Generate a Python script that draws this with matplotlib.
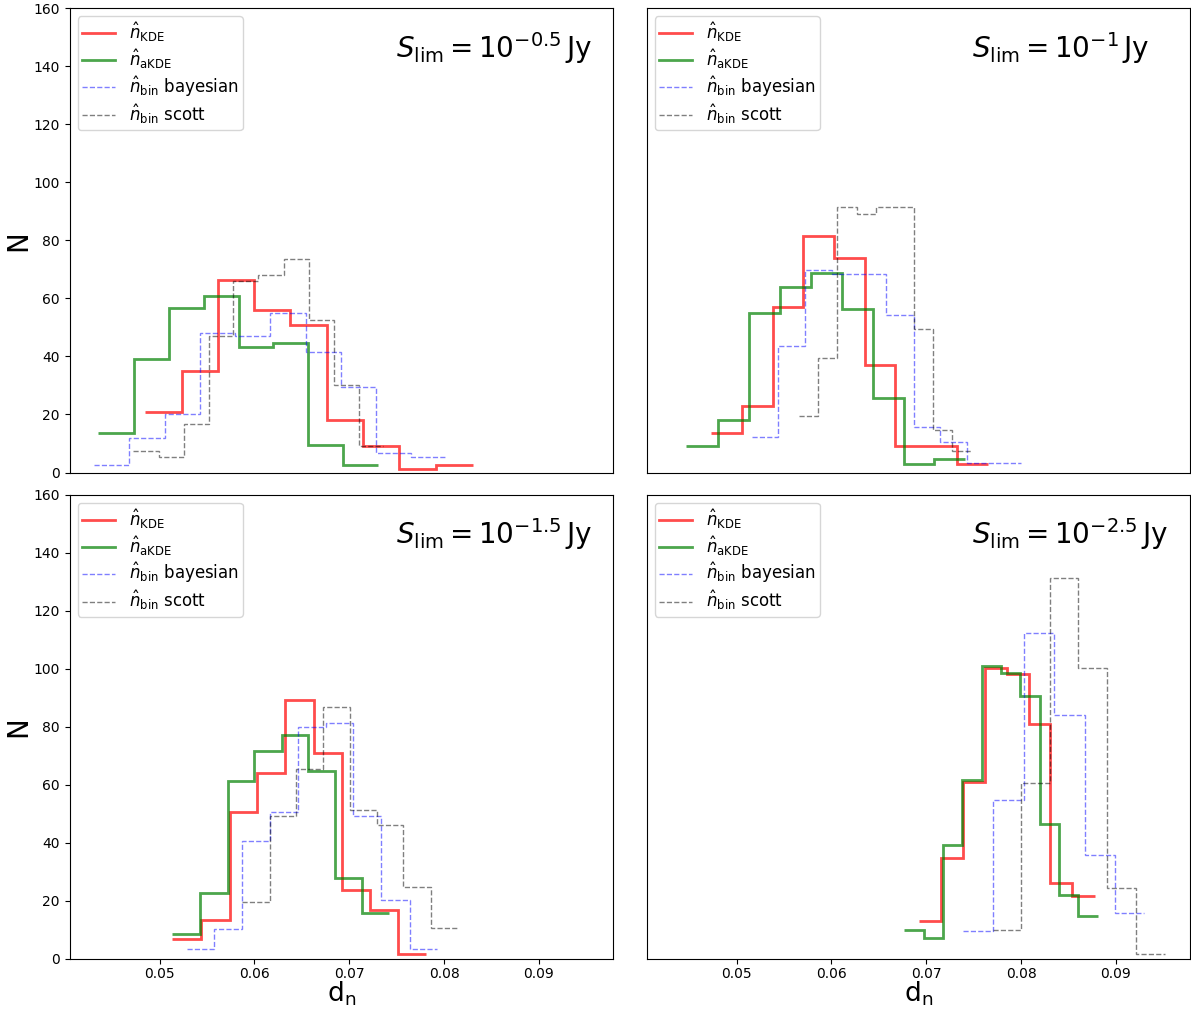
import matplotlib
matplotlib.use('Agg')
import matplotlib.pyplot as plt
import numpy as np

# Grenzflussdichten der vier Panels
titles = [r'$S_{\rm lim} = 10^{-0.5}\,$Jy', r'$S_{\rm lim} = 10^{-1}\,$Jy',
          r'$S_{\rm lim} = 10^{-1.5}\,$Jy', r'$S_{\rm lim} = 10^{-2.5}\,$Jy']

# S_lim = 10^-0.5 Jy
kde_e1 = [0.04849, 0.05235, 0.05618, 0.06000, 0.06379, 0.06761, 0.07147, 0.07526, 0.07913, 0.08305]
kde_n1 = [20.7, 34.9, 66.2, 55.9, 50.7, 18.0, 9.0, 1.1, 2.5]
akde_e1 = [0.04351, 0.04726, 0.05095, 0.05463, 0.05832, 0.06193, 0.06568, 0.06937, 0.07308]
akde_n1 = [13.6, 39.2, 56.8, 60.9, 43.2, 44.6, 9.4, 2.5]
bay_e1 = [0.04308, 0.04677, 0.05053, 0.05424, 0.05793, 0.06165, 0.06540, 0.06913, 0.07284, 0.07656, 0.08024]
bay_n1 = [2.5, 12.0, 20.0, 48.2, 46.9, 55.1, 41.6, 29.4, 6.8, 5.2]
sco_e1 = [0.04719, 0.04989, 0.05253, 0.05516, 0.05779, 0.06042, 0.06308, 0.06572, 0.06835, 0.07098, 0.07361]
sco_n1 = [7.4, 5.5, 16.8, 47.0, 66.0, 67.9, 73.4, 52.6, 30.0, 9.3]

# S_lim = 10^-1 Jy
kde_e2 = [0.04726, 0.05053, 0.05379, 0.05705, 0.06028, 0.06355, 0.06674, 0.07000, 0.07326, 0.07653]
kde_n2 = [13.7, 23.0, 56.9, 81.6, 73.8, 36.9, 9.0, 9.0, 3.0]
akde_e2 = [0.04471, 0.04800, 0.05129, 0.05456, 0.05782, 0.06108, 0.06435, 0.06761, 0.07087, 0.07414]
akde_n2 = [9.0, 18.2, 54.8, 64.0, 68.7, 56.4, 25.7, 2.8, 4.6]
bay_e2 = [0.05161, 0.05439, 0.05723, 0.06007, 0.06295, 0.06579, 0.06866, 0.07147, 0.07435, 0.07716, 0.07997]
bay_n2 = [12.2, 43.7, 69.9, 68.3, 68.3, 54.2, 15.6, 10.5, 3.2, 3.2]
sco_e2 = [0.05660, 0.05863, 0.06063, 0.06266, 0.06466, 0.06670, 0.06871, 0.07071, 0.07274, 0.07477]
sco_n2 = [19.5, 39.4, 91.6, 89.0, 91.6, 91.6, 49.5, 14.7, 7.3]

# S_lim = 10^-1.5 Jy
kde_e3 = [0.05134, 0.05439, 0.05737, 0.06028, 0.06326, 0.06624, 0.06919, 0.07214, 0.07513, 0.07814]
kde_n3 = [6.9, 13.6, 50.6, 64.0, 89.3, 70.9, 23.6, 16.9, 1.6]
akde_e3 = [0.05134, 0.05428, 0.05716, 0.06000, 0.06287, 0.06568, 0.06850, 0.07137, 0.07424]
akde_n3 = [8.7, 22.9, 61.4, 71.8, 77.0, 64.9, 27.9, 15.7]
bay_e3 = [0.05287, 0.05572, 0.05871, 0.06165, 0.06458, 0.06755, 0.07042, 0.07340, 0.07639, 0.07926]
bay_n3 = [3.6, 10.2, 40.7, 50.8, 79.8, 81.4, 49.1, 20.3, 3.6]
sco_e3 = [0.05871, 0.06165, 0.06442, 0.06723, 0.07003, 0.07292, 0.07572, 0.07860, 0.08140]
sco_n3 = [19.7, 49.4, 65.4, 86.7, 51.4, 46.0, 24.7, 10.6]

# S_lim = 10^-2.5 Jy
kde_e4 = [0.06919, 0.07155, 0.07389, 0.07621, 0.07853, 0.08081, 0.08308, 0.08537, 0.08776]
kde_n4 = [13.1, 34.7, 60.9, 100.3, 98.2, 80.8, 26.1, 21.7]
akde_e4 = [0.06765, 0.06976, 0.07179, 0.07382, 0.07586, 0.07789, 0.07993, 0.08197, 0.08400, 0.08603, 0.08811]
akde_n4 = [9.9, 7.3, 39.1, 61.8, 100.9, 98.4, 90.7, 46.6, 22.2, 14.8]
bay_e4 = [0.07393, 0.07708, 0.08032, 0.08351, 0.08674, 0.08993, 0.09302]
bay_n4 = [9.6, 54.8, 112.3, 84.2, 35.9, 15.7]
sco_e4 = [0.07705, 0.08000, 0.08302, 0.08603, 0.08908, 0.09214, 0.09519]
sco_n4 = [10.0, 60.8, 131.3, 100.1, 24.6, 1.6]

panels = [
    (kde_e1, kde_n1, akde_e1, akde_n1, bay_e1, bay_n1, sco_e1, sco_n1),
    (kde_e2, kde_n2, akde_e2, akde_n2, bay_e2, bay_n2, sco_e2, sco_n2),
    (kde_e3, kde_n3, akde_e3, akde_n3, bay_e3, bay_n3, sco_e3, sco_n3),
    (kde_e4, kde_n4, akde_e4, akde_n4, bay_e4, bay_n4, sco_e4, sco_n4),
]

fig, axs = plt.subplots(2, 2, sharex=True, sharey=True, figsize=(11.91, 10.10), dpi=100)
fig.subplots_adjust(left=0.0584, right=0.999, top=0.992, bottom=0.0505, wspace=0.062, hspace=0.0474)

for ax, p, title in zip(axs.flat, panels, titles):
    ke, kn, ae, an, be, bn, se, sn = p
    ax.stairs(kn, ke, baseline=None, color='r', lw=2, alpha=0.7, label=r'$\hat{n}_{\rm KDE}$')
    ax.stairs(an, ae, baseline=None, color='g', lw=2, alpha=0.7, label=r'$\hat{n}_{\rm aKDE}$')
    ax.stairs(bn, be, baseline=None, color='b', lw=1, ls='--', alpha=0.5, label=r'$\hat{n}_{\rm bin}$ bayesian')
    ax.stairs(sn, se, baseline=None, color='k', lw=1, ls='--', alpha=0.5, label=r'$\hat{n}_{\rm bin}$ scott')
    ax.text(0.6, 0.915, title, transform=ax.transAxes, fontsize=20, ha='left', va='center')
    ax.legend(loc='upper left', fontsize=12, labelspacing=0.2, borderpad=0.25)
    ax.tick_params(labelsize=10)

axs[0, 0].set_xlim(0.0405, 0.0978)
axs[0, 0].set_ylim(0, 160)
axs[0, 0].set_xticks([0.05, 0.06, 0.07, 0.08, 0.09])
axs[0, 0].set_yticks(np.arange(0, 161, 20))
for ax in axs[0, :]:
    ax.tick_params(bottom=False)
for ax in axs[:, 1]:
    ax.tick_params(left=False)
for ax in axs[:, 0]:
    ax.set_ylabel('N', fontsize=20, labelpad=0.5)
for ax in axs[1, :]:
    ax.tick_params(axis='x', pad=2.5)
    ax.set_xlabel(r'$\rm d_n$', fontsize=19, labelpad=-1)

plt.savefig('out.png')
